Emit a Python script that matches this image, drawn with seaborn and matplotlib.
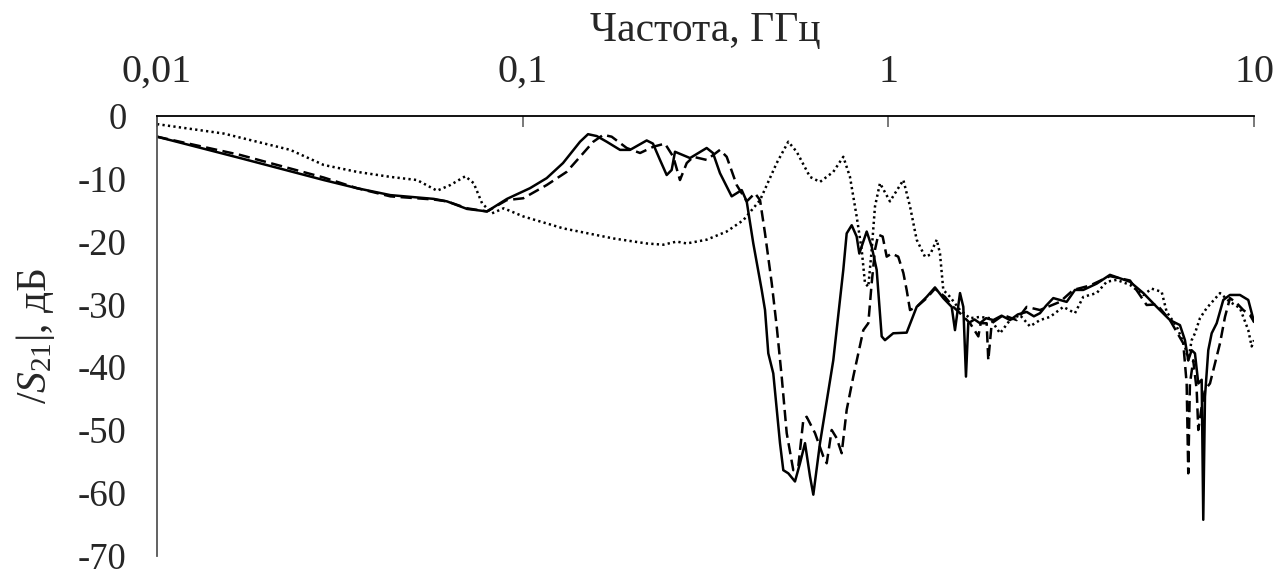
import matplotlib
matplotlib.use("Agg")
import matplotlib.pyplot as plt
import seaborn as sns
import pandas as pd
from matplotlib.ticker import FixedLocator, FixedFormatter, NullLocator

# ---- measured transmission |S21| (dB) versus frequency (GHz) ----
freq_a = [0.0100, 0.01687, 0.02856, 0.03523, 0.04345, 0.05708, 0.06209, 0.07041,
          0.07987, 0.0906, 0.1047, 0.1163, 0.1289, 0.1435, 0.1509, 0.1594, 0.1697,
          0.1846, 0.1966, 0.2183, 0.2271, 0.2374, 0.2476, 0.2555, 0.2609, 0.2868,
          0.3185, 0.3314, 0.3463, 0.3728, 0.3971, 0.4098, 0.4272, 0.4504, 0.4599,
          0.4695, 0.4845, 0.5054, 0.5160, 0.5325, 0.5554, 0.5732, 0.5916, 0.6105,
          0.6234, 0.6501, 0.7069, 0.7529, 0.7691, 0.7938, 0.8190, 0.8327, 0.8724,
          0.9003, 0.9290, 0.9587, 0.9788, 1.031, 1.122, 1.195, 1.273, 1.341, 1.413,
          1.490, 1.521, 1.570, 1.603, 1.630, 1.654, 1.720, 1.780, 1.850, 1.936,
          2.040, 2.151, 2.260, 2.389, 2.500, 2.598, 2.700, 2.825, 3.073, 3.238,
          3.412, 3.712, 4.036, 4.579, 4.979, 5.417,
          5.888, 6.271, 6.472, 6.608, 6.751, 6.893, 7.039, 7.191, 7.263, 7.342,
          7.496, 7.658, 7.904, 8.238, 8.593, 9.151, 9.643, 10.0]
s21_a = [-3.3, -6.7, -10.2, -11.5, -12.6, -13.2, -13.6, -14.8,
         -15.2, -13.2, -11.5, -9.9, -7.5, -4.1, -2.9, -3.2, -4.1,
         -5.4, -5.4, -3.9, -4.4, -7.0, -9.4, -8.6, -5.7, -6.7,
         -5.1, -5.9, -9.1, -12.8, -11.8, -13.6, -20.3, -27.7, -30.9,
         -37.8, -41.0, -52.1, -56.4, -56.9, -58.2, -55.3, -52.1, -57.4,
         -60.3, -52.1, -38.9, -24.5, -18.7, -17.4, -19.2, -21.9, -18.4,
         -20.8, -24.5, -35.1, -35.7, -34.6, -34.5, -30.4, -28.8, -27.3, -29.0,
         -30.4, -34.1, -28.2, -30.4, -41.5, -33.0, -32.4, -33.0, -32.2, -32.5,
         -31.8, -32.5, -31.6, -31.2, -31.9, -31.4, -30.2, -29.0, -29.6, -27.7,
         -27.7, -26.7, -25.3, -26.4, -28.2, -30.4,
         -32.5, -33.3, -35.7, -38.9, -37.3, -37.8, -42.6, -42.0, -64.3, -44.7,
         -37.3, -34.6, -33.0, -29.3, -28.5, -28.5, -29.3, -32.8]

freq_b = [0.0100, 0.01687, 0.02856, 0.03523, 0.04345, 0.05708, 0.06209, 0.07041,
          0.07987, 0.0904, 0.1004, 0.1163, 0.1319, 0.1435, 0.1560, 0.1661, 0.1751,
          0.1925, 0.2094, 0.2276, 0.2449, 0.2581, 0.2692, 0.2809, 0.2928, 0.3185,
          0.3463, 0.3613, 0.3848, 0.4098, 0.4317, 0.4457, 0.4599, 0.4797, 0.4950,
          0.5108, 0.5272, 0.5495, 0.5671, 0.5853, 0.5977, 0.6301, 0.6637, 0.6782,
          0.6998, 0.7221, 0.7453, 0.7691, 0.8018, 0.8541, 0.8813, 0.9003, 0.9192,
          0.9385, 0.9647, 0.9894, 1.021, 1.064, 1.099, 1.122, 1.146, 1.195, 1.273,
          1.341, 1.428, 1.505, 1.570, 1.672, 1.762, 1.788, 1.857, 1.876, 1.917,
          2.062, 2.243, 2.389, 2.598, 2.946, 3.204, 3.558, 4.036, 4.579, 5.085,
          5.417, 5.888, 6.403, 6.542, 6.608, 6.678, 6.819, 6.968, 7.039, 7.191,
          7.342, 7.576, 7.819, 8.070, 8.327, 8.593, 8.965, 9.343, 9.746, 10.0]
s21_b = [-3.3, -6.2, -9.8, -11.5, -12.8, -13.3, -13.6, -14.7,
         -15.2, -13.4, -13.1, -11.0, -8.9, -6.5, -4.1, -3.0, -3.3,
         -5.1, -5.9, -4.9, -4.4, -6.5, -10.2, -7.5, -6.5, -7.0,
         -5.4, -6.5, -11.0, -13.6, -12.3, -13.4, -18.7, -26.6, -33.5,
         -41.5, -50.5, -56.4, -55.8, -48.4, -47.9, -50.5, -54.2, -55.3,
         -50.0, -51.3, -53.7, -46.8, -41.5, -34.1, -33.0, -26.6, -21.3,
         -18.9, -19.2, -22.4, -21.9, -22.4, -25.0, -27.7, -30.9, -30.4, -29.0,
         -27.5, -28.8, -30.4, -31.4, -33.0, -35.1, -33.0, -33.0, -38.9, -33.0,
         -31.7, -32.5, -30.4, -30.9, -29.6, -27.7, -27.0, -25.5, -26.2, -30.1,
         -30.0, -32.5, -36.2, -42.6, -56.9, -42.6, -38.9, -43.6, -50.0, -46.3,
         -43.6, -42.6, -39.4, -36.2, -32.0, -29.0, -29.8, -30.9, -31.7, -32.8]

freq_c = [0.0100, 0.01522, 0.02314, 0.02856, 0.03523, 0.04345, 0.05140, 0.05831,
          0.06339, 0.06967, 0.07345, 0.07741, 0.08245, 0.08873, 0.1004, 0.1291,
          0.1769, 0.2183, 0.2424, 0.2637, 0.2809, 0.3185, 0.3613, 0.4011, 0.4457,
          0.4950, 0.5325, 0.5614, 0.6105, 0.6501, 0.7069, 0.7529, 0.7852, 0.8190,
          0.8453, 0.8630, 0.8813, 0.9003, 0.9192, 0.9485, 1.010, 1.099, 1.146,
          1.195, 1.259, 1.300, 1.356, 1.384, 1.413, 1.474, 1.570, 1.672, 1.780,
          1.896, 2.020, 2.151, 2.290, 2.439, 2.598, 2.766, 3.009, 3.238, 3.412,
          3.712, 3.954, 4.210, 4.579, 4.979, 5.248, 5.589, 5.768, 6.143, 6.472,
          6.608, 6.751, 6.893, 7.113, 7.420, 8.070, 8.593, 9.151, 9.643, 9.849, 10.0]
s21_c = [-1.3, -2.8, -5.4, -7.8, -8.9, -9.7, -10.2, -11.9,
         -11.0, -9.6, -10.7, -13.9, -15.5, -14.7, -16.0, -17.9,
         -19.5, -20.3, -20.5, -20.0, -20.3, -19.7, -18.4, -16.6, -13.4,
         -7.5, -4.1, -5.7, -9.7, -10.5, -8.9, -6.5, -9.7, -16.0,
         -21.3, -26.6, -27.2, -21.3, -14.4, -10.7, -13.6, -10.2, -14.4,
         -19.7, -22.4, -22.1, -19.7, -21.9, -27.7, -28.8, -30.9, -32.2, -32.0,
         -32.2, -34.6, -32.5, -31.7, -33.5, -32.5, -32.0, -30.4, -31.4, -28.8,
         -28.2, -26.4, -26.1, -26.9, -28.5, -27.5, -28.0, -31.2, -33.5, -36.7,
         -38.9, -35.7, -34.6, -32.2, -30.6, -28.2, -29.6, -30.6, -34.1, -36.7, -35.7]

x_ticks = [0.01, 0.1, 1, 10]
x_tick_labels = ["0,01", "0,1", "1", "10"]
y_ticks = [0, -10, -20, -30, -40, -50, -60, -70]
y_tick_labels = ["0", "-10", "-20", "-30", "-40", "-50", "-60", "-70"]

sns.set_style("white")
plt.rcParams["font.family"] = ["Liberation Serif", "DejaVu Serif"]
plt.rcParams["mathtext.fontset"] = "custom"
plt.rcParams["mathtext.rm"] = "Liberation Serif"
plt.rcParams["mathtext.it"] = "Liberation Serif:italic"
plt.rcParams["axes.unicode_minus"] = False

fig = plt.figure(figsize=(12.87, 5.71), dpi=100)
ax = fig.add_axes([0.1220, 0.0270, 0.8524, 0.7699])

series = [
    (freq_a, s21_a, "-"),
    (freq_b, s21_b, (0, (4.5, 2.2))),
    (freq_c, s21_c, (0, (0.9, 1.3))),
]
for f, s, ls in series:
    df = pd.DataFrame({"f": f, "s21": s})
    sns.lineplot(data=df, x="f", y="s21", ax=ax, color="black", linewidth=1.8,
                 linestyle=ls, sort=False, estimator=None)

ax.set_xscale("log")
ax.set_xlim(0.01, 10)
ax.set_ylim(-70, 0)

ax.xaxis.set_major_locator(FixedLocator(x_ticks))
ax.xaxis.set_major_formatter(FixedFormatter(x_tick_labels))
ax.xaxis.set_minor_locator(NullLocator())
ax.yaxis.set_major_locator(FixedLocator(y_ticks))
ax.yaxis.set_major_formatter(FixedFormatter(y_tick_labels))

ax.xaxis.tick_top()
ax.xaxis.set_label_position("top")
ax.tick_params(axis="x", which="major", direction="in", length=8, width=1.1,
               color="#555555", labelsize=29, pad=18, top=True, bottom=False)
ax.tick_params(axis="y", which="major", direction="in", length=8, width=1.1,
               color="#555555", labelsize=26.5, pad=22)

for side in ("right", "bottom"):
    ax.spines[side].set_visible(False)
ax.spines["top"].set_color("black")
ax.spines["top"].set_linewidth(1.3)
ax.spines["left"].set_color("#555555")
ax.spines["left"].set_linewidth(1.3)

ax.set_xlabel("Частота, ГГц", fontsize=30, labelpad=9)
ax.set_ylabel(r"/$S_{21}$|, дБ", fontsize=30, labelpad=15)

fig.savefig("out.png", dpi=100, facecolor="white")
